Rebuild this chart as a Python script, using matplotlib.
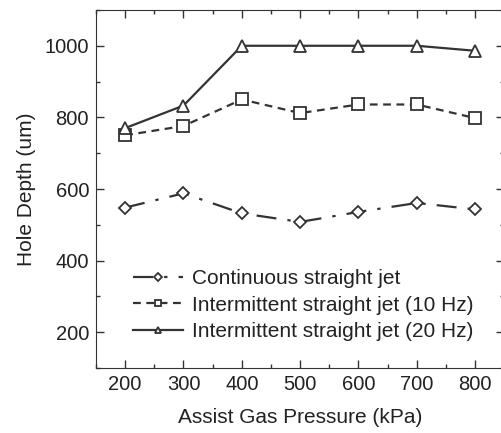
import matplotlib.pyplot as plt
from matplotlib.ticker import MultipleLocator

plt.rcParams['font.family'] = ['Liberation Sans', 'DejaVu Sans']

pressure = [200, 300, 400, 500, 600, 700, 800]
continuous = [548, 588, 532, 508, 536, 561, 543]
intermittent_10hz = [750, 776, 850, 812, 836, 836, 798]
intermittent_20hz = [770, 833, 1000, 1000, 1000, 1000, 986]

ink = '#333333'
txt = '#222222'

fig = plt.figure(figsize=(5.01, 4.33), dpi=100)
ax = fig.add_axes([0.1916, 0.150, 0.815, 0.827])

ax.plot(pressure, continuous, color=ink, lw=1.6, linestyle=(0, (9, 5, 1.5, 5)),
        marker='D', markersize=6.5, mfc='white', mec=ink, mew=1.3,
        label='Continuous straight jet')
ax.plot(pressure, intermittent_10hz, color=ink, lw=1.6, linestyle=(0, (3.5, 2.5)),
        marker='s', markersize=8, mfc='white', mec=ink, mew=1.3,
        label='Intermittent straight jet (10 Hz)')
ax.plot(pressure, intermittent_20hz, color=ink, lw=1.6, linestyle='-',
        marker='^', markersize=8, mfc='white', mec=ink, mew=1.3,
        label='Intermittent straight jet (20 Hz)')

ax.set_xlim(150, 850)
ax.set_ylim(100, 1100)
ax.xaxis.set_major_locator(MultipleLocator(100))
ax.xaxis.set_minor_locator(MultipleLocator(50))
ax.yaxis.set_major_locator(MultipleLocator(200))
ax.yaxis.set_minor_locator(MultipleLocator(100))
ax.tick_params(which='both', direction='in', top=True, right=True,
               colors=ink, labelcolor=txt, labelsize=14.5)
ax.tick_params(which='major', length=6, width=1, pad=5)
ax.tick_params(which='minor', length=3, width=1)
for s in ax.spines.values():
    s.set_color(ink)

ax.set_xlabel('Assist Gas Pressure (kPa)', fontsize=15, color=txt, labelpad=10)
ax.set_ylabel('Hole Depth (um)', fontsize=15, color=txt, labelpad=6)

ax.legend(loc='lower left', bbox_to_anchor=(0.055, 0.035), frameon=False,
          fontsize=15, handlelength=2.4, handletextpad=0.45, labelspacing=0.35,
          markerscale=0.6, labelcolor=txt, borderpad=0.2)

fig.savefig('out.png', dpi=100)
